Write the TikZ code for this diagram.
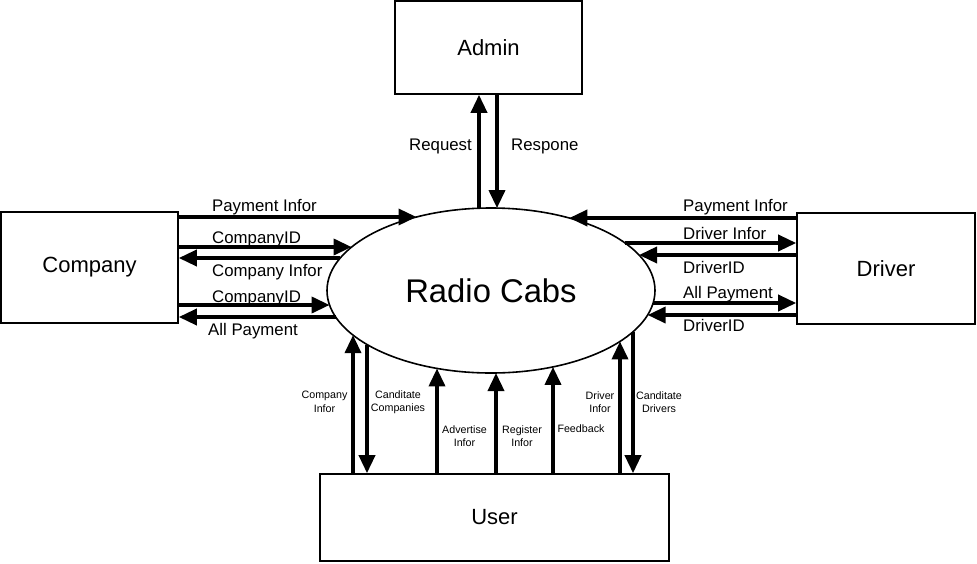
\documentclass[tikz,border=0pt]{standalone}
\usepackage{fontspec}
\setmainfont{Liberation Sans}
\usetikzlibrary{arrows.meta,shapes.geometric}
\begin{document}
\begin{tikzpicture}[x=1pt,y=-1pt,
  box/.style={draw, line width=1.6pt, rectangle, inner sep=0pt, font=\fontsize{22}{26}\selectfont},
  flow/.style={line width=3.6pt, -{Triangle[length=18pt,width=16pt]}},
  lbl/.style={font=\fontsize{16.8}{19}\selectfont, inner sep=0pt},
  sml/.style={font=\fontsize{10.7}{13.5}\selectfont, align=center, inner sep=0pt}]
\useasboundingbox (0,0) rectangle (977,563);

% entities
\node[box, minimum width=187pt, minimum height=93pt] (admin) at (488.5,47.5) {Admin};
\node[box, minimum width=177pt, minimum height=111pt] (company) at (89.5,267.5) {Company};
\node[box, minimum width=178pt, minimum height=111pt] (driver) at (886,268.5) {Driver};
\node[box, minimum width=349pt, minimum height=87pt] (user) at (494.5,517.5) {User};

% process
\node[draw, ellipse, line width=1.6pt, minimum width=328pt, minimum height=165pt,
      inner sep=0pt, outer sep=0pt, font=\fontsize{32.8}{36}\selectfont] (rc) at (491,290.5) {Radio Cabs};

% points on the ellipse border
\coordinate (l1) at (416.5,217);
\coordinate (l2) at (351.6,247);
\coordinate (l3) at (340.3,258);
\coordinate (l4) at (329.6,305);
\coordinate (l5) at (335.7,317);
\coordinate (r1) at (569.3,218);
\coordinate (r2) at (625.1,243);
\coordinate (r3) at (639.0,255);
\coordinate (r4) at (653.1,303);
\coordinate (r5) at (647.6,315);
\coordinate (t1) at (479,208.2);
\coordinate (t2) at (497,208.1);
\coordinate (b1) at (353,335.1);
\coordinate (b2) at (367,344.5);
\coordinate (b3) at (437,368.4);
\coordinate (b4) at (496,373.0);
\coordinate (b5) at (553,366.9);
\coordinate (b6) at (620,341.4);
\coordinate (b7) at (633,331.8);

% Company flows
\draw[flow] (company.east |- 0,217) -- (l1);
\draw[flow] (company.east |- 0,247) -- (l2);
\draw[flow] (l3) -- (company.east |- 0,258);
\draw[flow] (company.east |- 0,305) -- (l4);
\draw[flow] (l5) -- (company.east |- 0,317);

% Driver flows
\draw[flow] (driver.west |- 0,218) -- (r1);
\draw[flow] (r2) -- (driver.west |- 0,243);
\draw[flow] (driver.west |- 0,255) -- (r3);
\draw[flow] (r4) -- (driver.west |- 0,303);
\draw[flow] (driver.west |- 0,315) -- (r5);

% Admin flows
\draw[flow] (t1) -- (admin.south -| 479,0);
\draw[flow] (admin.south -| 497,0) -- (t2);

% User flows
\draw[flow] (user.north -| 353,0) -- (b1);
\draw[flow] (b2) -- (user.north -| 367,0);
\draw[flow] (user.north -| 437,0) -- (b3);
\draw[flow] (user.north -| 496,0) -- (b4);
\draw[flow] (user.north -| 553,0) -- (b5);
\draw[flow] (user.north -| 620,0) -- (b6);
\draw[flow] (b7) -- (user.north -| 633,0);

% labels left
\node[lbl, anchor=base west] (lt1) at (212,211) {Payment Infor};
\node[lbl, anchor=base west] (lt2) at (212,243) {CompanyID};
\node[lbl, anchor=base west] (lt3) at (212,276.5) {Company Infor};
\node[lbl, anchor=base west] (lt4) at (212,302) {CompanyID};
\node[lbl, anchor=base west] (lt5) at (208,335) {All Payment};

% labels right
\node[lbl, anchor=base west] (rt1) at (683,211) {Payment Infor};
\node[lbl, anchor=base west] (rt2) at (683,239) {Driver Infor};
\node[lbl, anchor=base west] (rt3) at (683,273) {DriverID};
\node[lbl, anchor=base west] (rt4) at (683,298) {All Payment};
\node[lbl, anchor=base west] (rt5) at (683,331) {DriverID};

% labels top
\node[lbl, anchor=base east] (tt1) at (472,150) {Request};
\node[lbl, anchor=base west] (tt2) at (511,150) {Respone};

% labels bottom
\node[sml] (bt1) at (324.5,402) {Company\\Infor};
\node[sml] (bt2) at (398,402) {Canditate\\Companies};
\node[sml] (bt3) at (464.5,436) {Advertise\\Infor};
\node[sml] (bt4) at (522,436) {Register\\Infor};
\node[sml] (bt5) at (581,429) {Feedback};
\node[sml] (bt6) at (600,402) {Driver\\Infor};
\node[sml] (bt7) at (659,402) {Canditate\\Drivers};
\end{tikzpicture}
\end{document}
